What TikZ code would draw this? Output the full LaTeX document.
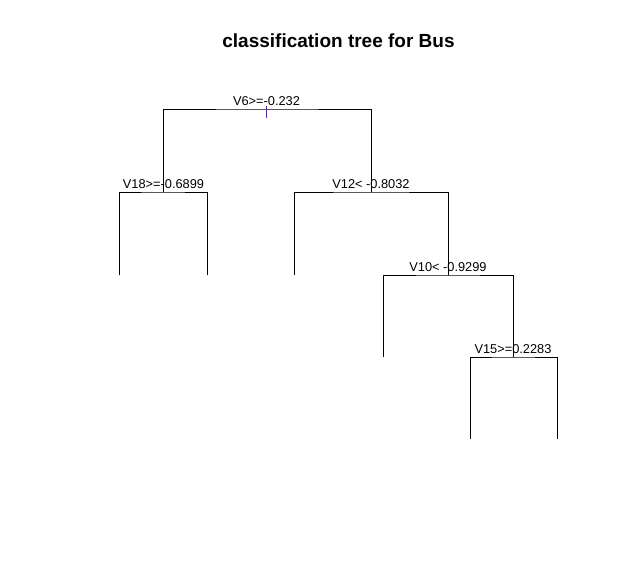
\documentclass[tikz,border=0pt]{standalone}
\usepackage{fontspec}
\setmainfont{Liberation Sans}
\definecolor{tickcol}{RGB}{90,40,160}
\begin{document}
\begin{tikzpicture}[x=1pt,y=-1pt,
  branch/.style={draw=black,line width=1pt},
  lab/.style={inner sep=0pt,anchor=base,font=\fontsize{12.8}{14}\selectfont},
  ttl/.style={inner sep=0pt,anchor=base,font=\fontsize{19}{22}\selectfont\bfseries}]
\useasboundingbox[fill=white] (0,0) rectangle (639,568);
\node[ttl] (title) at (338.5,47.5) {classification tree for Bus};
% split points
\coordinate (root) at (267,109);
\coordinate (n18) at (163,192);
\coordinate (n12) at (371,192);
\coordinate (l1) at (119,275);
\coordinate (l2) at (207,275);
\coordinate (l3) at (294,275);
\coordinate (n10) at (448,275);
\coordinate (l4) at (383,357);
\coordinate (n15) at (513,357);
\coordinate (l5) at (470,439);
\coordinate (l6) at (557,439);
% branches
\draw[branch] (n18) |- (root) -| (n12);
\draw[branch] (l1) |- (n18) -| (l2);
\draw[branch] (l3) |- (n12) -| (n10);
\draw[branch] (l4) |- (n10) -| (n15);
\draw[branch] (l5) |- (n15) -| (l6);
% root tick
\coordinate (tktop) at (266,106);
\coordinate (tkbot) at (266,118);
\draw[tickcol,line width=1pt] (tktop) -- (tkbot);
% labels
\node[lab] (lroot) at (266.5,105) {V6>=-0.232};
\node[lab] (l18) at (163.5,188) {V18>=-0.6899};
\node[lab] (l12) at (371,188) {V12< -0.8032};
\node[lab] (l10) at (448,271) {V10< -0.9299};
\node[lab] (l15) at (513,353) {V15>=0.2283};
\end{tikzpicture}
\end{document}
